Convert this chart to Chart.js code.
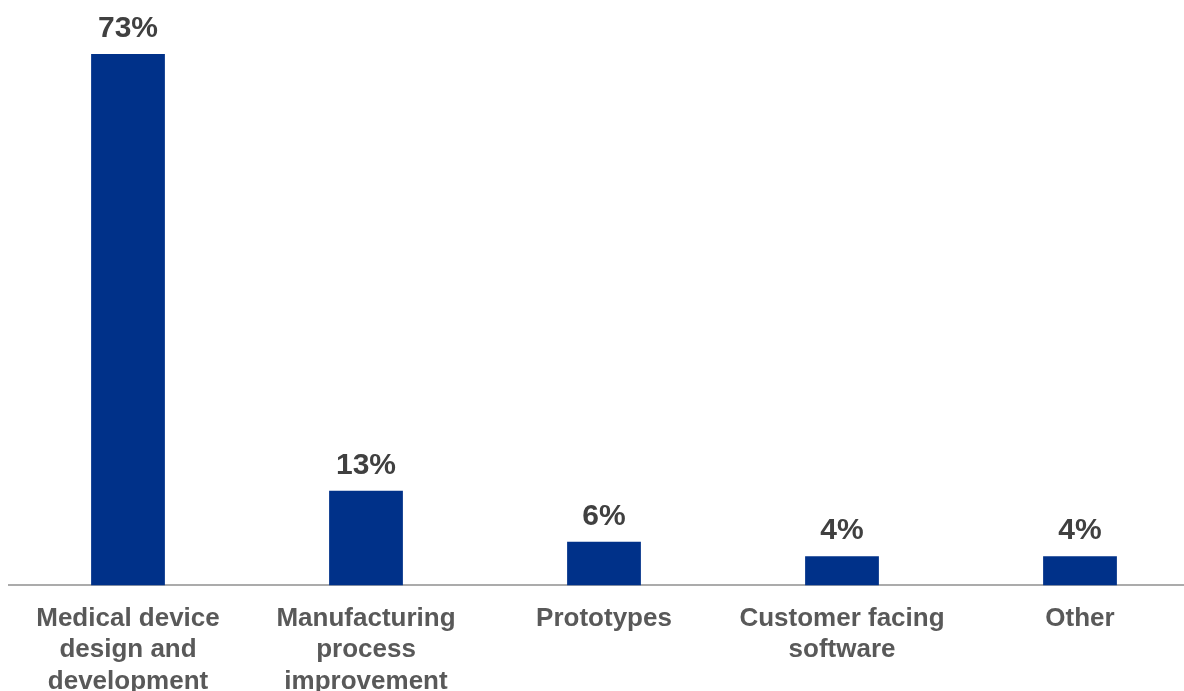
<!DOCTYPE html>
<html>
<head>
<meta charset="utf-8">
<script src="https://cdn.jsdelivr.net/npm/chart.js@4"></script>
<style>
  html, body { margin: 0; padding: 0; background: #fff; overflow: hidden; }
  #wrap { width: 1199px; height: 707px; position: relative; }
</style>
</head>
<body>
<div id="wrap"><canvas id="chart"></canvas></div>
<script>
"use strict";

const categories = [
  ["Medical device", "design and", "development"],
  ["Manufacturing", "process", "improvement"],
  ["Prototypes"],
  ["Customer facing", "software"],
  ["Other"]
];
const shares = [73, 13, 6, 4, 4];

const barLabels = {
  id: "barLabels",
  afterDatasetsDraw(chart) {
    const ctx = chart.ctx;
    const meta = chart.getDatasetMeta(0);
    ctx.save();
    ctx.font = "bold 30px 'Liberation Sans', Arial, sans-serif";
    ctx.fillStyle = "#404040";
    ctx.textAlign = "center";
    ctx.textBaseline = "alphabetic";
    for (let i = 0; i < meta.data.length; i++) {
      const bar = meta.data[i];
      ctx.fillText(shares[i] + "%", bar.x, bar.y - 17);
    }
    ctx.restore();
  }
};

const config = {
  type: "bar",
  data: {
    labels: categories,
    datasets: [{
      data: shares,
      backgroundColor: "#003189",
      borderWidth: 0,
      categoryPercentage: 1,
      barPercentage: 0.31
    }]
  },
  options: {
    responsive: true,
    maintainAspectRatio: false,
    animation: false,
    layout: { padding: { left: 9, right: 0, top: 3, bottom: 0 } },
    plugins: {
      legend: { display: false },
      tooltip: { enabled: false }
    },
    scales: {
      x: {
        grid: { display: false },
        border: { display: true, color: "#ababab", width: 2 },
        ticks: {
          color: "#595959",
          padding: 10,
          maxRotation: 0,
          autoSkip: false,
          font: { family: "'Liberation Sans', Arial, sans-serif", size: 26, weight: "bold", lineHeight: 1.2 }
        }
      },
      y: {
        display: false,
        min: 0,
        max: 80
      }
    }
  },
  plugins: [barLabels]
};

const myChart = new Chart(document.getElementById("chart"), config);
</script>
</body>
</html>
